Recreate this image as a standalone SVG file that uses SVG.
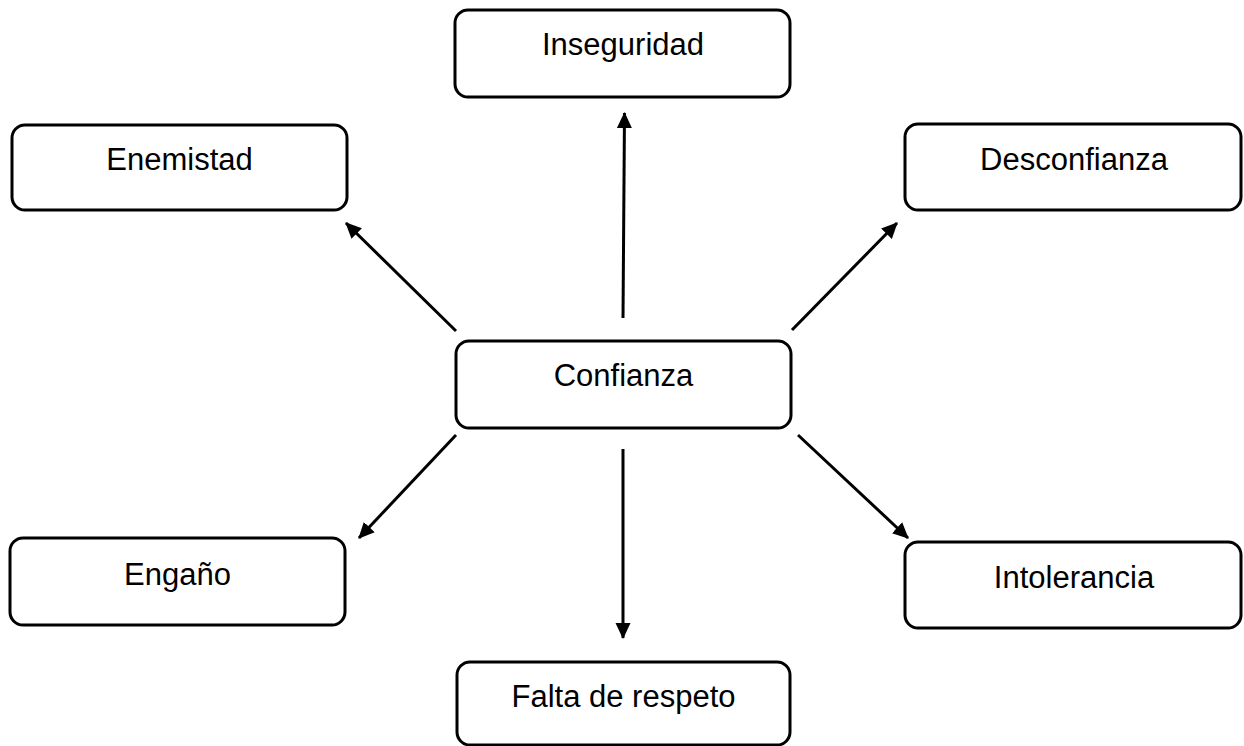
<svg xmlns="http://www.w3.org/2000/svg" width="1244" height="746" viewBox="0 0 1244 746">
<style>
.box{fill:#fff;stroke:#000;stroke-width:3}
.lbl{font-family:"Liberation Sans",Arial,sans-serif;font-size:31px;fill:#000;text-anchor:middle}
.conn{stroke:#000;stroke-width:3;fill:none;marker-end:url(#ah)}
</style>
<defs>
<marker id="ah" markerUnits="userSpaceOnUse" markerWidth="16" markerHeight="16" viewBox="0 0 16 16" refX="15" refY="8" orient="auto">
<path d="M0,0.5 L16,8 L0,15.5 Z" fill="#000"/>
</marker>
</defs>
<rect width="1244" height="746" fill="#fff"/>
<g id="connectors">
<line class="conn" x1="623" y1="318" x2="624.5" y2="113"/>
<line class="conn" x1="623" y1="449" x2="623" y2="638"/>
<line class="conn" x1="456" y1="331" x2="346" y2="223"/>
<line class="conn" x1="792" y1="330" x2="897" y2="223"/>
<line class="conn" x1="456" y1="435" x2="359" y2="538"/>
<line class="conn" x1="798" y1="435" x2="908" y2="538"/>
</g>
<g id="inseguridad"><rect class="box" x="455" y="10" width="335" height="87" rx="13"/><text class="lbl" x="623" y="55">Inseguridad</text></g>
<g id="enemistad"><rect class="box" x="12" y="125" width="335" height="85" rx="13"/><text class="lbl" x="179.5" y="170">Enemistad</text></g>
<g id="desconfianza"><rect class="box" x="905" y="124" width="336" height="86" rx="13"/><text class="lbl" x="1074" y="170">Desconfianza</text></g>
<g id="confianza"><rect class="box" x="456" y="341" width="335" height="87" rx="13"/><text class="lbl" x="623.5" y="386">Confianza</text></g>
<g id="engano"><rect class="box" x="10" y="538" width="335" height="87" rx="13"/><text class="lbl" x="177.5" y="585">Engaño</text></g>
<g id="intolerancia"><rect class="box" x="905" y="542" width="336" height="86" rx="13"/><text class="lbl" x="1074" y="588">Intolerancia</text></g>
<g id="falta"><rect class="box" x="457" y="662" width="333" height="83" rx="13"/><text class="lbl" x="623.5" y="707">Falta de respeto</text></g>
</svg>
